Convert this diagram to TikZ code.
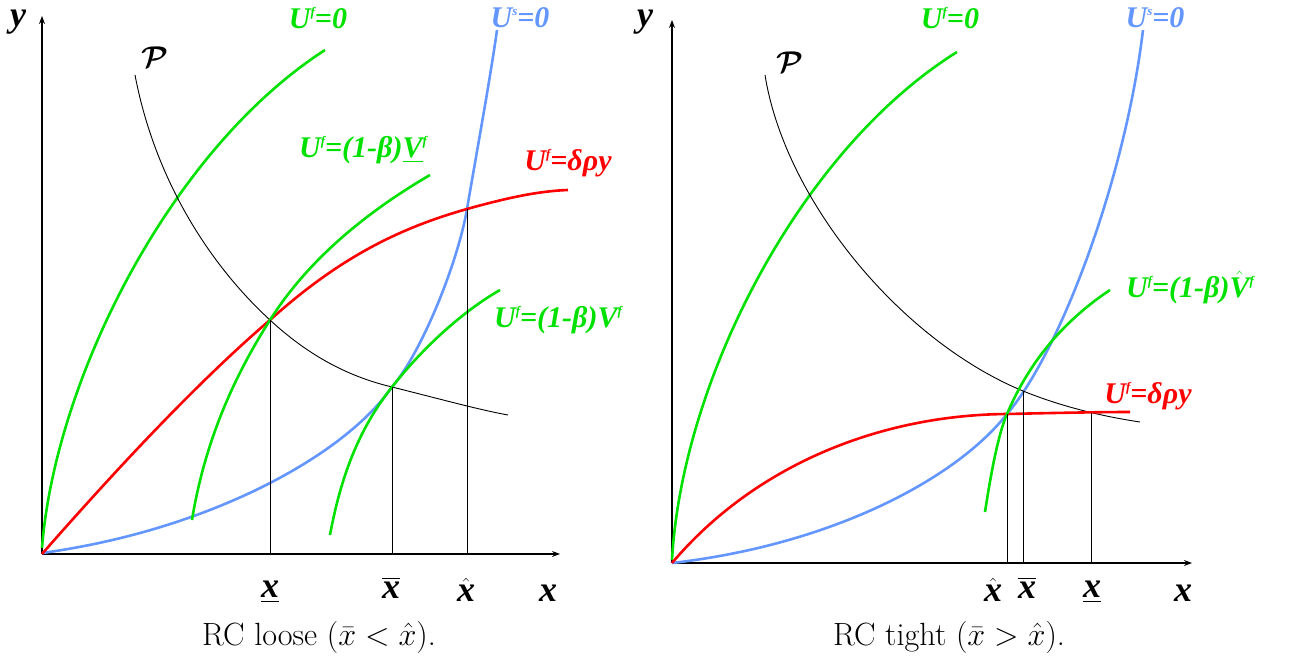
\documentclass[tikz,border=0pt]{standalone}
\usepackage{amsmath}
\usepackage{fontspec}
\newfontfamily\lbl{Liberation Serif}
\usetikzlibrary{arrows.meta}
\definecolor{cgreen}{RGB}{0,225,0}
\definecolor{cblue}{RGB}{100,150,255}
\definecolor{cred}{RGB}{255,0,0}
\newcommand\smallsup[1]{\raisebox{0.42em}{\fontsize{13}{13}\selectfont #1}}
\begin{document}
\begin{tikzpicture}[x=1pt,y=-1pt,
  axisline/.style={line width=1.4pt,-{Stealth[length=8pt,width=6pt]}},
  gcurve/.style={cgreen,line width=2.6pt},
  bcurve/.style={cblue,line width=2.6pt},
  rcurve/.style={cred,line width=2.6pt},
  pcurve/.style={black,line width=0.9pt},
  vline/.style={black,line width=1pt},
  curvelab/.style={font=\lbl\bfseries\itshape\fontsize{30}{32}\selectfont,inner sep=0pt},
  ticklab/.style={font=\lbl\bfseries\itshape\fontsize{36}{38}\selectfont,inner sep=0pt},
  plab/.style={font=\fontsize{20.74}{24}\selectfont,inner sep=0pt},
  captxt/.style={font=\fontsize{20.74}{24}\selectfont,inner sep=0pt}]
\useasboundingbox (0,0) rectangle (1294,658);

% ---------------- LEFT PANEL ----------------
\coordinate (lo) at (42,554);
\coordinate (lyt) at (42,16);
\coordinate (lxt) at (560,554);
\draw[axisline] (lo) -- (lyt);
\draw[axisline] (lo) -- (lxt);

\coordinate (la) at (270,320);  \coordinate (lab) at (270,554);
\coordinate (lb) at (392,387);  \coordinate (lbb) at (392,554);
\coordinate (lc) at (467,209);  \coordinate (lcb) at (467,554);

% U^f = 0
\draw[gcurve] (42,548) .. controls (55,380) and (170,150) .. (325,50);
% U^s = 0
\draw[bcurve] (42,553) .. controls (210,530) and (345,455) .. (lb)
  .. controls (422,352) and (458,262) .. (lc)
  .. controls (476,156) and (490,80) .. (497,30);
% P
\draw[pcurve] (135,75) .. controls (155,180) and (210,265) .. (la)
  .. controls (310,357) and (350,377) .. (lb)
  .. controls (440,399) and (480,410) .. (508,415);
% red
\draw[rcurve] (lo) .. controls (120,465) and (200,380) .. (la)
  .. controls (340,257) and (400,228) .. (lc)
  .. controls (510,197) and (540,191) .. (568,190);
% (1-beta) underline V
\draw[gcurve] (192,520) .. controls (205,440) and (235,375) .. (la)
  .. controls (310,257) and (370,210) .. (430,175);
% (1-beta) V
\draw[gcurve] (330,535) .. controls (342,470) and (362,425) .. (lb)
  .. controls (425,345) and (465,310) .. (500,290);

\draw[vline] (la) -- (lab);
\draw[vline] (lb) -- (lbb);
\draw[vline] (lc) -- (lcb);

\node[curvelab,cgreen] (l1) at (318,18) {U\smallsup{f}=0};
\node[curvelab,cblue] (l2) at (520,18) {U\smallsup{s}=0};
\node[curvelab,cgreen] (l3) at (363,150) {U\smallsup{f}=(1-β)\underline{V}\smallsup{f}};
\node[curvelab,cred] (l4) at (568,163) {U\smallsup{f}=δρy};
\node[curvelab,cgreen] (l5) at (558,320) {U\smallsup{f}=(1-β)V\smallsup{f}};
\node[plab] (lp) at (155,57) {\scalebox{1.45}{$\boldsymbol{\mathcal{P}}$}};
\node[ticklab] (ly) at (18,22) {y};
\node[ticklab] (lx) at (548,593) {x};
\node[ticklab] (lt1) at (270,592) {\underline{x}};
\node[ticklab] (lt2) at (391,588) {$\overline{\mbox{\lbl\bfseries\itshape x}}$};
\node[ticklab] (lt3) at (466,590) {$\hat{\mbox{\lbl\bfseries\itshape x}}$};
\node[captxt] (lcap) at (319,637) {\scalebox{1.55}{RC loose ($\bar{x}<\hat{x}$).}};

% ---------------- RIGHT PANEL ----------------
\coordinate (ro) at (672,563);
\coordinate (ryt) at (672,20);
\coordinate (rxt) at (1192,563);
\draw[axisline] (ro) -- (ryt);
\draw[axisline] (ro) -- (rxt);

\coordinate (ra) at (1007,414);  \coordinate (rab) at (1007,563);
\coordinate (rb) at (1023,391);  \coordinate (rbb) at (1023,563);
\coordinate (rc) at (1091,413);  \coordinate (rcb) at (1091,563);

% U^f = 0
\draw[gcurve] (672,560) .. controls (682,380) and (800,150) .. (957,52);
% U^s = 0
\draw[bcurve] (ro) .. controls (830,545) and (955,480) .. (ra)
  .. controls (1060,352) and (1125,180) .. (1143,30);
% P
\draw[pcurve] (765,75) .. controls (785,200) and (900,340) .. (rb)
  .. controls (1060,406) and (1100,416) .. (1140,422);
% red
\draw[rcurve] (ro) .. controls (755,465) and (880,415) .. (ra)
  .. controls (1050,413) and (1100,412) .. (1130,412);
% (1-beta) hat V
\draw[gcurve] (985,512) .. controls (993,460) and (1000,430) .. (ra)
  .. controls (1030,360) and (1065,320) .. (1110,290);

\draw[vline] (ra) -- (rab);
\draw[vline] (rb) -- (rbb);
\draw[vline] (rc) -- (rcb);

\node[curvelab,cgreen] (r1) at (950,18) {U\smallsup{f}=0};
\node[curvelab,cblue] (r2) at (1155,18) {U\smallsup{s}=0};
\node[curvelab,cgreen] (r3) at (1190,288) {U\smallsup{f}=(1-β)$\hat{\mbox{\lbl\bfseries\itshape V}}$\smallsup{f}};
\node[curvelab,cred] (r4) at (1148,396) {U\smallsup{f}=δρy};
\node[plab] (rp) at (790,62) {\scalebox{1.45}{$\boldsymbol{\mathcal{P}}$}};
\node[ticklab] (ry) at (645,22) {y};
\node[ticklab] (rx) at (1183,593) {x};
\node[ticklab] (rt1) at (993,590) {$\hat{\mbox{\lbl\bfseries\itshape x}}$};
\node[ticklab] (rt2) at (1027,588) {$\overline{\mbox{\lbl\bfseries\itshape x}}$};
\node[ticklab] (rt3) at (1092,592) {\underline{x}};
\node[captxt] (rcap) at (949,637) {\scalebox{1.55}{RC tight ($\bar{x}>\hat{x}$).}};
\end{tikzpicture}
\end{document}
